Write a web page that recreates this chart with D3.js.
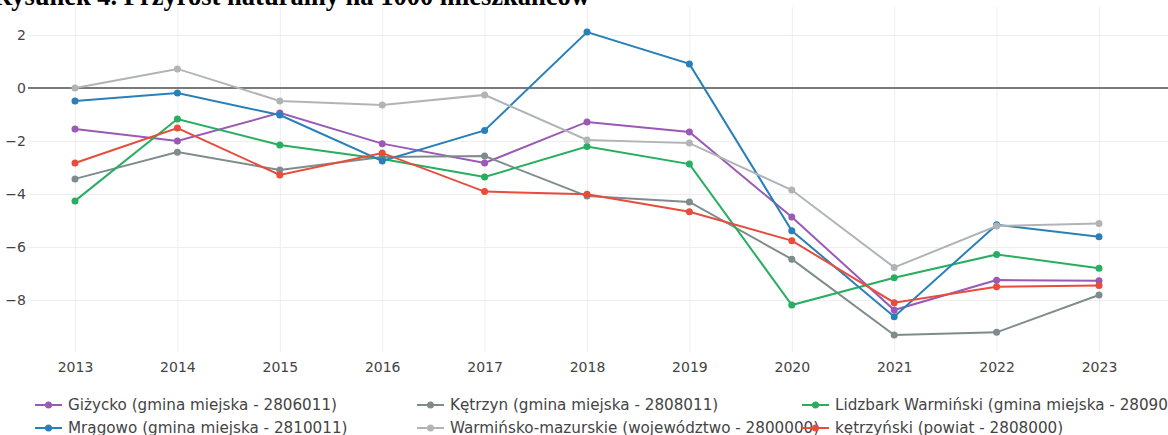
<!DOCTYPE html>
<html>
<head>
<meta charset="utf-8">
<script src="https://cdn.jsdelivr.net/npm/d3@7"></script>
<style>
  body { margin: 0; background: #fff; }
  svg { display: block; }
  .tick text { font-family: "DejaVu Sans", Verdana, sans-serif; font-size: 14px; fill: #444; }
  .legend text { font-family: "DejaVu Sans", Verdana, sans-serif; font-size: 15.2px; fill: #444; }
</style>
</head>
<body>
<div id="chart"></div>
<script>
// data
var years = [2013, 2014, 2015, 2016, 2017, 2018, 2019, 2020, 2021, 2022, 2023];
var seriesNames = [
  "Giżycko (gmina miejska - 2806011)",
  "Kętrzyn (gmina miejska - 2808011)",
  "Lidzbark Warmiński (gmina miejska - 2809011)",
  "Mrągowo (gmina miejska - 2810011)",
  "Warmińsko-mazurskie (województwo - 2800000)",
  "kętrzyński (powiat - 2808000)"
];
var gizycko   = [-1.55, -2.0, -0.94, -2.1, -2.83, -1.28, -1.66, -4.87, -8.38, -7.25, -7.27];
var ketrzyn   = [-3.43, -2.42, -3.09, -2.6, -2.57, -4.08, -4.3, -6.46, -9.32, -9.22, -7.81];
var lidzbark  = [-4.26, -1.17, -2.15, -2.68, -3.36, -2.21, -2.87, -8.19, -7.16, -6.28, -6.8];
var mragowo   = [-0.49, -0.19, -1.02, -2.75, -1.6, 2.11, 0.91, -5.39, -8.63, -5.16, -5.61];
var wojew     = [0.0, 0.72, -0.49, -0.64, -0.26, -1.96, -2.08, -3.85, -6.77, -5.21, -5.11];
var ketrzynski = [-2.83, -1.51, -3.28, -2.45, -3.91, -4.01, -4.67, -5.76, -8.1, -7.5, -7.45];
var yTicks = [-8, -6, -4, -2, 0, 2];

var seriesValues = [gizycko, ketrzyn, lidzbark, mragowo, wojew, ketrzynski];
var colors = ["#9b59b6", "#7f8c8d", "#27ae60", "#2980b9", "#b1b4b6", "#e74c3c"];

var width = 1168, height = 435;
var plotTop = 7, plotBottom = 352, plotLeft = 28;

var svg = d3.select('#chart').append('svg')
  .attr('width', width)
  .attr('height', height);

var x = d3.scaleLinear().domain([2013, 2023]).range([75, 1099]);
var y = d3.scaleLinear().domain([-8, 2]).range([300, 35]);

// title, mostly cut off at the top of the crop
svg.append('text')
  .attr('x', 590)
  .attr('y', 5)
  .attr('text-anchor', 'end')
  .style('font-family', '"Liberation Serif", "Times New Roman", serif')
  .style('font-weight', 'bold')
  .style('font-size', '26.5px')
  .style('fill', '#000')
  .text('Rysunek 4. Przyrost naturalny na 1000 mieszkańców');

// x axis with vertical grid
var xAxis = svg.append('g')
  .attr('transform', 'translate(0,' + plotBottom + ')')
  .call(d3.axisBottom(x).tickValues(years).tickFormat(d3.format('d'))
    .tickSize(-(plotBottom - plotTop)).tickPadding(10));
xAxis.select('.domain').remove();
xAxis.selectAll('line').attr('stroke', '#eee');

// y axis with horizontal grid
var yAxis = svg.append('g')
  .attr('transform', 'translate(' + plotLeft + ',0)')
  .call(d3.axisLeft(y).tickValues(yTicks).tickSize(-(width - plotLeft)).tickPadding(2));
yAxis.select('.domain').remove();
yAxis.selectAll('line').attr('stroke', '#eee');

// zero line
svg.append('line')
  .attr('x1', plotLeft).attr('x2', width)
  .attr('y1', y(0)).attr('y2', y(0))
  .attr('stroke', '#7a7a7a')
  .attr('stroke-width', 2);

var line = d3.line()
  .x(function (d, i) { return x(years[i]); })
  .y(function (d) { return y(d); });

seriesValues.forEach(function (vals, k) {
  svg.append('path')
    .datum(vals)
    .attr('d', line)
    .attr('fill', 'none')
    .attr('stroke', colors[k])
    .attr('stroke-width', 2);
  svg.selectAll('.dot' + k)
    .data(vals)
    .enter().append('circle')
    .attr('cx', function (d, i) { return x(years[i]); })
    .attr('cy', function (d) { return y(d); })
    .attr('r', 3.5)
    .attr('fill', colors[k]);
});

// legend, three columns
var legendX = [35, 417, 802], legendY = [405, 428];
var legend = svg.selectAll('.legend')
  .data(seriesNames)
  .enter().append('g')
  .attr('class', 'legend')
  .attr('transform', function (d, i) {
    return 'translate(' + legendX[i % 3] + ',' + legendY[Math.floor(i / 3)] + ')';
  });

legend.append('line')
  .attr('x1', 0).attr('x2', 27)
  .attr('stroke', function (d, i) { return colors[i]; })
  .attr('stroke-width', 2);
legend.append('circle')
  .attr('cx', 13.5).attr('r', 3.5)
  .attr('fill', function (d, i) { return colors[i]; });
legend.append('text')
  .attr('x', 33)
  .attr('dy', '0.35em')
  .text(function (d) { return d; });
</script>
</body>
</html>
